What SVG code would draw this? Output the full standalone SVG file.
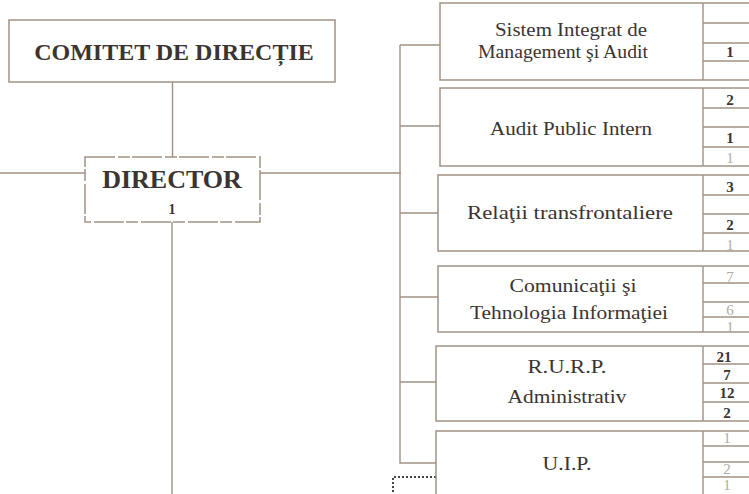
<svg xmlns="http://www.w3.org/2000/svg" width="749" height="494" viewBox="0 0 749 494">
<style>
.bx{fill:#fff;stroke:#a09284;stroke-width:1.5}
.ln{fill:none;stroke:#a09284;stroke-width:1.4}
.t{font-family:"Liberation Serif","Times New Roman",serif;fill:#3b3431;text-anchor:middle}
.h{font-weight:bold}
.lb{font-size:19px}
.n{font-size:15px;font-weight:bold}
.f{fill:#b3aaa2;font-weight:normal}
</style>
<g id="connectors">
<path class="ln" d="M172.5 82V157M172 222V494M0 173H85M260 173H401M400 45V463H436M400 45H440M400 126H440M400 213H438M400 297H438M400 382H436"/>
<path d="M436 477H393V494" fill="none" stroke="#4a4240" stroke-width="2" stroke-dasharray="2 2"/>
</g>
<g id="comitet">
<rect class="bx" x="9" y="20" width="326" height="62"/>
<text class="t h" x="174" y="60" font-size="24">COMITET DE DIRECȚIE</text>
</g>
<g id="director">
<rect class="bx" x="85" y="157" width="175" height="65" stroke="#b8aca2" stroke-dasharray="30 3 12 2"/>
<text class="t h" x="172" y="188" font-size="26">DIRECTOR</text>
<text class="t h" x="172" y="214" font-size="14">1</text>
</g>
<g id="sistem">
<rect class="bx" x="440" y="3" width="312" height="77"/>
<path class="ln" d="M703 3V80M703 23H749M703 43H749M703 61H749"/>
<text class="t lb" x="571" y="36" textLength="152" lengthAdjust="spacingAndGlyphs">Sistem Integrat de</text>
<text class="t lb" x="563" y="58" textLength="170" lengthAdjust="spacingAndGlyphs">Management şi Audit</text>
<text class="t n" x="730" y="57">1</text>
</g>
<g id="audit">
<rect class="bx" x="440" y="88" width="312" height="78"/>
<path class="ln" d="M703 88V166M703 108H749M703 127H749M703 147H749"/>
<text class="t lb" x="571" y="135" textLength="162" lengthAdjust="spacingAndGlyphs">Audit Public Intern</text>
<text class="t n" x="730" y="105">2</text>
<text class="t n" x="730" y="143">1</text>
<text class="t n f" x="730" y="163" font-size="11">1</text>
</g>
<g id="relatii">
<rect class="bx" x="438" y="175" width="314" height="76"/>
<path class="ln" d="M703 175V251M703 195H749M703 214H749M703 233H749"/>
<text class="t lb" x="570" y="219" textLength="206" lengthAdjust="spacingAndGlyphs">Relaţii transfrontaliere</text>
<text class="t n" x="730" y="192">3</text>
<text class="t n" x="730" y="230">2</text>
<text class="t n f" x="730" y="250" font-size="13">1</text>
</g>
<g id="comunicatii">
<rect class="bx" x="438" y="266" width="314" height="66"/>
<path class="ln" d="M703 266V332M703 283H749M703 302H749M703 317H749"/>
<text class="t lb" x="573" y="292" textLength="127" lengthAdjust="spacingAndGlyphs">Comunicaţii şi</text>
<text class="t lb" x="569" y="319" textLength="198" lengthAdjust="spacingAndGlyphs">Tehnologia Informaţiei</text>
<text class="t n f" x="730" y="282" font-size="13">7</text>
<text class="t n f" x="730" y="315" font-size="13">6</text>
<text class="t n f" x="730" y="332" font-size="13">1</text>
</g>
<g id="rurp">
<rect class="bx" x="436" y="346" width="316" height="75"/>
<path class="ln" d="M703 346V421M703 364H749M703 383H749M703 402H749"/>
<text class="t lb" x="567" y="373" textLength="79" lengthAdjust="spacingAndGlyphs">R.U.R.P.</text>
<text class="t lb" x="567" y="403" textLength="119" lengthAdjust="spacingAndGlyphs">Administrativ</text>
<text class="t n" x="724" y="362">21</text>
<text class="t n" x="727" y="380">7</text>
<text class="t n" x="727" y="398">12</text>
<text class="t n" x="727" y="418">2</text>
</g>
<g id="uip">
<rect class="bx" x="436" y="431" width="316" height="70" stroke="#7e756f"/>
<path class="ln" d="M703 431V494M703 446H749M703 462H749M703 477H749"/>
<text class="t lb" x="567" y="470" textLength="49" lengthAdjust="spacingAndGlyphs">U.I.P.</text>
<text class="t n f" x="727" y="443" font-size="12">1</text>
<text class="t n f" x="727" y="474" font-size="12">2</text>
<text class="t n f" x="727" y="490" font-size="11">1</text>
</g>
</svg>
